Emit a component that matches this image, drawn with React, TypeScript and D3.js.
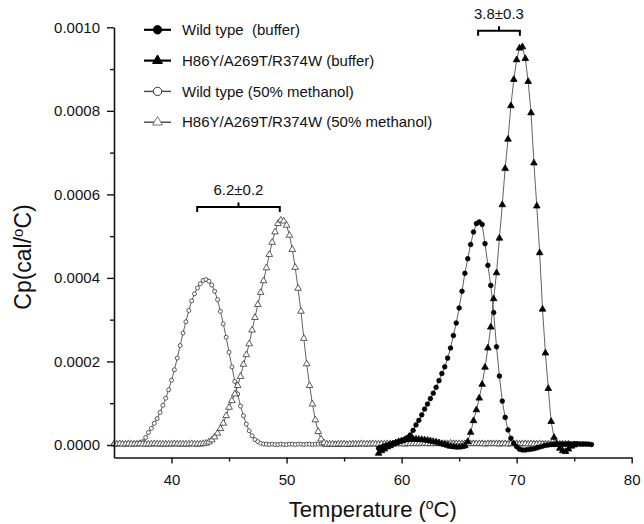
import React, { useEffect, useRef } from 'react'
import * as d3 from 'd3'

// temperature grid of the DSC scans (°C)
const TEMPS = [
  35, 35.25, 35.5, 35.75, 36, 36.25, 36.5, 36.75, 37, 37.25, 37.5, 37.75,
  38, 38.25, 38.5, 38.75, 39, 39.25, 39.5, 39.75, 40, 40.25, 40.5, 40.75,
  41, 41.25, 41.5, 41.75, 42, 42.25, 42.5, 42.75, 43, 43.25, 43.5, 43.75,
  44, 44.25, 44.5, 44.75, 45, 45.25, 45.5, 45.75, 46, 46.25, 46.5, 46.75,
  47, 47.25, 47.5, 47.75, 48, 48.25, 48.5, 48.75, 49, 49.25, 49.5, 49.75,
  50, 50.25, 50.5, 50.75, 51, 51.25, 51.5, 51.75, 52, 52.25, 52.5, 52.75,
  53, 53.25, 53.5, 53.75, 54, 54.25, 54.5, 54.75, 55, 55.25, 55.5, 55.75,
  56, 56.25, 56.5, 56.75, 57, 57.25, 57.5, 57.75, 58, 58.25, 58.5, 58.75,
  59, 59.25, 59.5, 59.75, 60, 60.25, 60.5, 60.75, 61, 61.25, 61.5, 61.75,
  62, 62.25, 62.5, 62.75, 63, 63.25, 63.5, 63.75, 64, 64.25, 64.5, 64.75,
  65, 65.25, 65.5, 65.75, 66, 66.25, 66.5, 66.75, 67, 67.25, 67.5, 67.75,
  68, 68.25, 68.5, 68.75, 69, 69.25, 69.5, 69.75, 70, 70.25, 70.5, 70.75,
  71, 71.25, 71.5, 71.75, 72, 72.25, 72.5, 72.75, 73, 73.25, 73.5, 73.75,
  74, 74.25, 74.5, 74.75, 75, 75.25, 75.5, 75.75, 76, 76.25, 76.5,
]

// Cp values in units of 1e-4 cal/°C, each series starts at its own temperature
const wtBufferStart = 58
const wtBuffer = [
  -0.08, -0.05, -0.02, 0.0, 0.02, 0.04, 0.06, 0.08, 0.1, 0.13,
  0.18, 0.24, 0.35, 0.48, 0.59, 0.72, 0.86, 0.98, 1.11, 1.24,
  1.38, 1.54, 1.71, 1.87, 2.08, 2.32, 2.62, 2.92, 3.28, 3.68,
  4.11, 4.46, 4.8, 5.1, 5.3, 5.34, 5.28, 4.82, 4.3, 3.82,
  3.17, 2.35, 1.65, 1.05, 0.66, 0.36, 0.16, 0.04, -0.04, -0.1,
  -0.12, -0.12, -0.11, -0.1, -0.09, -0.07, -0.05, -0.03, -0.01, 0.0,
  0.01, 0.01, 0.02, 0.02, 0.02, 0.02, 0.03, 0.02, 0.02, 0.03,
  0.02, 0.02, 0.02, 0.02, 0.01,
]

const mutBufferStart = 58
const mutBuffer = [
  -0.2, -0.14, -0.1, -0.05, -0.02, 0.02, 0.05, 0.08, 0.1, 0.12,
  0.13, 0.14, 0.14, 0.14, 0.13, 0.13, 0.12, 0.11, 0.1, 0.08,
  0.07, 0.05, 0.03, 0.01, -0.01, -0.03, -0.04, -0.05, -0.05, -0.04,
  -0.02, 0.08, 0.3, 0.58, 0.84, 1.12, 1.45, 1.86, 2.32, 2.82,
  3.5, 4.12, 4.95, 5.75, 6.62, 7.32, 8.12, 8.75, 9.22, 9.5,
  9.53, 9.25, 8.7, 7.95, 6.75, 5.72, 4.6, 3.25, 2.2, 1.35,
  0.56, 0.18, 0.02, -0.08, -0.14, -0.16, -0.1, -0.03, 0.0,
]

const wtMethanolStart = 35
const wtMethanol = [
  0.03, 0.02, 0.03, 0.03, 0.02, 0.03, 0.03, 0.03, 0.04, 0.05,
  0.08, 0.18, 0.3, 0.4, 0.52, 0.63, 0.78, 0.95, 1.12, 1.32,
  1.55, 1.8, 2.08, 2.38, 2.68, 2.95, 3.22, 3.45, 3.62, 3.76,
  3.86, 3.94, 3.96, 3.92, 3.83, 3.68, 3.48, 3.2, 2.9, 2.58,
  2.22, 1.87, 1.52, 1.22, 0.93, 0.7, 0.5, 0.34, 0.22, 0.13,
  0.08, 0.04, 0.02,
  0.02, 0.01, 0.02, 0.01, 0.01, 0.02, 0.01, 0.01, 0.02, 0.02,
  0.01, 0.02, 0.02, 0.01, 0.02, 0.02, 0.01, 0.02, 0.02, 0.02,
  0.01, 0.02, 0.02, 0.02, 0.03, 0.02, 0.02, 0.03, 0.02, 0.02,
  0.03, 0.02, 0.03, 0.03, 0.02, 0.03, 0.03, 0.03, 0.02, 0.03,
  0.03, 0.03, 0.04, 0.03, 0.03, 0.04, 0.03, 0.04, 0.04, 0.03,
  0.04, 0.04, 0.03, 0.04, 0.04, 0.04, 0.03, 0.04, 0.04, 0.04,
  0.04, 0.03, 0.04, 0.04, 0.04, 0.05, 0.04, 0.04, 0.04, 0.05,
  0.04, 0.04, 0.05, 0.04, 0.04, 0.05, 0.04, 0.04, 0.05, 0.04,
  0.04, 0.05, 0.04, 0.04, 0.04, 0.05, 0.04, 0.04, 0.04, 0.04,
  0.04, 0.04, 0.03, 0.04, 0.04, 0.03, 0.04, 0.04, 0.03, 0.03,
  0.04, 0.03, 0.03, 0.04, 0.03, 0.03, 0.03, 0.04, 0.03, 0.03,
  0.03, 0.03,
]

const mutMethanolStart = 35
const mutMethanol = [
  0.02, 0.02, 0.03, 0.02, 0.02, 0.03, 0.02, 0.02, 0.02, 0.03,
  0.02, 0.02, 0.02, 0.02, 0.03, 0.02, 0.02, 0.02, 0.02, 0.02,
  0.02, 0.03, 0.02, 0.02, 0.02, 0.02, 0.02, 0.03, 0.02, 0.02,
  0.02, 0.03,
  0.04, 0.07, 0.12, 0.19, 0.28, 0.39, 0.52, 0.7, 0.9, 1.06,
  1.22, 1.42, 1.64, 1.93, 2.16, 2.42, 2.75, 3.05, 3.36, 3.65,
  3.93, 4.24, 4.56, 4.85, 5.1, 5.3, 5.38, 5.36, 5.26, 5.02,
  4.68, 4.25, 3.75, 3.2, 2.55, 1.94, 1.42, 0.98, 0.6, 0.32,
  0.14, 0.05, 0.02,
  0.02, 0.02, 0.01, 0.02, 0.02, 0.02, 0.01, 0.02, 0.02, 0.02,
  0.02, 0.03, 0.02, 0.02, 0.02, 0.03, 0.02, 0.02, 0.03, 0.02,
  0.03, 0.03, 0.02, 0.03, 0.03, 0.03, 0.02, 0.03, 0.03, 0.03,
  0.03, 0.03, 0.03, 0.04, 0.03, 0.03, 0.03, 0.03, 0.04, 0.03,
  0.03, 0.03, 0.04, 0.03, 0.03, 0.03, 0.03, 0.03, 0.03, 0.03,
  0.03, 0.03, 0.03, 0.03, 0.02, 0.03, 0.03, 0.03, 0.03, 0.02,
  0.03, 0.03, 0.02, 0.03, 0.03, 0.03, 0.02, 0.03, 0.03, 0.02,
  0.03, 0.02, 0.02, 0.03, 0.02, 0.02, 0.02, 0.02, 0.02, 0.02,
  0.02, 0.02, 0.02, 0.02,
]

const seriesNames = [
  'Wild type  (buffer)',
  'H86Y/A269T/R374W (buffer)',
  'Wild type (50% methanol)',
  'H86Y/A269T/R374W (50% methanol)',
]

const xMajor = [40, 50, 60, 70, 80]
const xMinor = [45, 55, 65, 75]
const yMajor = [0, 0.0002, 0.0004, 0.0006, 0.0008, 0.001]
const yMinor = [0.0001, 0.0003, 0.0005, 0.0007, 0.0009]

// Tm shift brackets: [from peak, to peak, bracket level (1e-4), label]
const shiftFrom = [42.23, 66.65]
const shiftTo = [49.41, 70.28]
const shiftLevel = [5.7, 9.92]
const shiftLabels = ['6.2±0.2', '3.8±0.3']

const UNIT = 1e-4
const FONT = '"Liberation Sans", Arial, Helvetica, sans-serif'

export default function App() {
  const ref = useRef<SVGSVGElement>(null)

  useEffect(() => {
    const svg = d3.select(ref.current)
    svg.selectAll('*').remove()
    svg.style('font-family', FONT)

    const x = d3.scaleLinear().domain([35, 80]).range([114, 631.7])
    const y = d3.scaleLinear().domain([-0.00003, 0.001]).range([457.5, 27.3])

    const series = [
      { values: wtMethanol, start: wtMethanolStart, shape: 'circle', filled: false },
      { values: mutMethanol, start: mutMethanolStart, shape: 'triangle', filled: false },
      { values: wtBuffer, start: wtBufferStart, shape: 'circle', filled: true },
      { values: mutBuffer, start: mutBufferStart, shape: 'triangle', filled: true },
    ]

    const line = d3
      .line<number[]>()
      .x((d) => x(d[0]))
      .y((d) => y(d[1]))

    const tri = d3.symbol().type(d3.symbolTriangle).size(19)

    const plot = svg.append('g')
    series.forEach((s) => {
      const i0 = TEMPS.indexOf(s.start)
      const pts = s.values.map((v, i) => [TEMPS[i0 + i], v * UNIT])
      const g = plot.append('g')
      g.append('path')
        .datum(pts)
        .attr('d', line)
        .attr('fill', 'none')
        .attr('stroke', '#3a3a3a')
        .attr('stroke-width', 0.8)
      const fill = s.filled ? '#000' : '#fff'
      const stroke = s.filled ? '#000' : '#333'
      if (s.shape === 'circle') {
        g.selectAll('circle')
          .data(pts)
          .join('circle')
          .attr('cx', (d) => x(d[0]))
          .attr('cy', (d) => y(d[1]))
          .attr('r', s.filled ? 2.3 : 2)
          .attr('fill', fill)
          .attr('stroke', stroke)
          .attr('stroke-width', 0.8)
      } else {
        g.selectAll('path.m')
          .data(pts)
          .join('path')
          .attr('class', 'm')
          .attr('d', tri)
          .attr('transform', (d) => `translate(${x(d[0])},${y(d[1])})`)
          .attr('fill', fill)
          .attr('stroke', stroke)
          .attr('stroke-width', 0.8)
      }
    })

    // axes
    const yAxis = svg
      .append('g')
      .attr('transform', `translate(${x(35)},0)`)
      .call(
        d3
          .axisLeft(y)
          .tickValues(yMajor)
          .tickFormat((d) => (+d).toFixed(4))
          .tickSize(7)
          .tickSizeOuter(0)
          .tickPadding(7)
      )
    svg
      .append('g')
      .attr('transform', `translate(${x(35)},0)`)
      .call(d3.axisLeft(y).tickValues(yMinor).tickFormat(() => '').tickSize(4).tickSizeOuter(0))
      .call((g) => g.select('.domain').remove())
    const xAxis = svg
      .append('g')
      .attr('transform', `translate(0,${y(-0.00003)})`)
      .call(
        d3
          .axisBottom(x)
          .tickValues(xMajor)
          .tickSize(6)
          .tickSizeOuter(0)
          .tickPadding(11)
      )
    svg
      .append('g')
      .attr('transform', `translate(0,${y(-0.00003)})`)
      .call(d3.axisBottom(x).tickValues(xMinor).tickFormat(() => '').tickSize(4).tickSizeOuter(0))
      .call((g) => g.select('.domain').remove())
    svg.selectAll('.domain').attr('stroke-width', 1.6).attr('stroke', '#111')
    svg.selectAll('.tick line').attr('stroke-width', 1.4).attr('stroke', '#111')
    ;[xAxis, yAxis].forEach((a) =>
      a.selectAll('text').attr('font-size', 15).attr('font-family', FONT).attr('fill', '#111')
    )

    // axis titles
    const xt = svg
      .append('text')
      .attr('x', (x(35) + x(80)) / 2)
      .attr('y', 517)
      .attr('text-anchor', 'middle')
      .attr('font-size', 22)
      .attr('fill', '#111')
    xt.append('tspan').text('Temperature (')
    xt.append('tspan').attr('font-size', 14).attr('dy', -8).text('o')
    xt.append('tspan').attr('dy', 8).text('C)')

    const yt = svg
      .append('text')
      .attr('transform', `translate(31,${257}) rotate(-90)`)
      .attr('text-anchor', 'middle')
      .attr('font-size', 23)
      .attr('fill', '#111')
    yt.append('tspan').text('Cp(cal/')
    yt.append('tspan').attr('font-size', 15).attr('dy', -8).text('o')
    yt.append('tspan').attr('dy', 8).text('C)')

    // shift brackets
    shiftLabels.forEach((lab, i) => {
      const x0 = x(shiftFrom[i])
      const x1 = x(shiftTo[i])
      const yl = y(shiftLevel[i] * UNIT)
      const xm = (x0 + x1) / 2
      svg
        .append('path')
        .attr('d', `M${x0},${yl + 5}V${yl}H${x1}V${yl + 5}M${xm},${yl}V${yl - 4.5}`)
        .attr('fill', 'none')
        .attr('stroke', '#000')
        .attr('stroke-width', 2)
      svg
        .append('text')
        .attr('x', xm)
        .attr('y', yl - 12)
        .attr('text-anchor', 'middle')
        .attr('font-size', 15)
        .attr('fill', '#111')
        .text(lab)
    })

    // legend
    const legend = svg.append('g').attr('transform', 'translate(144,29.8)')
    const legTri = d3.symbol().type(d3.symbolTriangle).size(42)
    seriesNames.forEach((name, i) => {
      const s = [series[2], series[3], series[0], series[1]][i]
      const row = legend.append('g').attr('transform', `translate(0,${i * 30.8})`)
      row
        .append('line')
        .attr('x1', 0)
        .attr('x2', 27)
        .attr('stroke', s.filled ? '#000' : '#444')
        .attr('stroke-width', s.filled ? 2.2 : 1.4)
      if (s.shape === 'circle') {
        row
          .append('circle')
          .attr('cx', 13.5)
          .attr('r', 4.2)
          .attr('fill', s.filled ? '#000' : '#fff')
          .attr('stroke', s.filled ? '#000' : '#333')
          .attr('stroke-width', 1)
      } else {
        row
          .append('path')
          .attr('d', legTri)
          .attr('transform', 'translate(13.5,0)')
          .attr('fill', s.filled ? '#000' : '#fff')
          .attr('stroke', s.filled ? '#000' : '#777')
          .attr('stroke-width', 1)
      }
      row
        .append('text')
        .attr('x', 38)
        .attr('dy', '0.35em')
        .attr('font-size', 15)
        .attr('fill', '#111')
        .style('white-space', 'pre')
        .text(name)
    })
  }, [])

  return (
    <svg
      ref={ref}
      width={644}
      height={524}
      style={{ position: 'absolute', left: 0, top: 0, background: '#fff' }}
    />
  )
}
